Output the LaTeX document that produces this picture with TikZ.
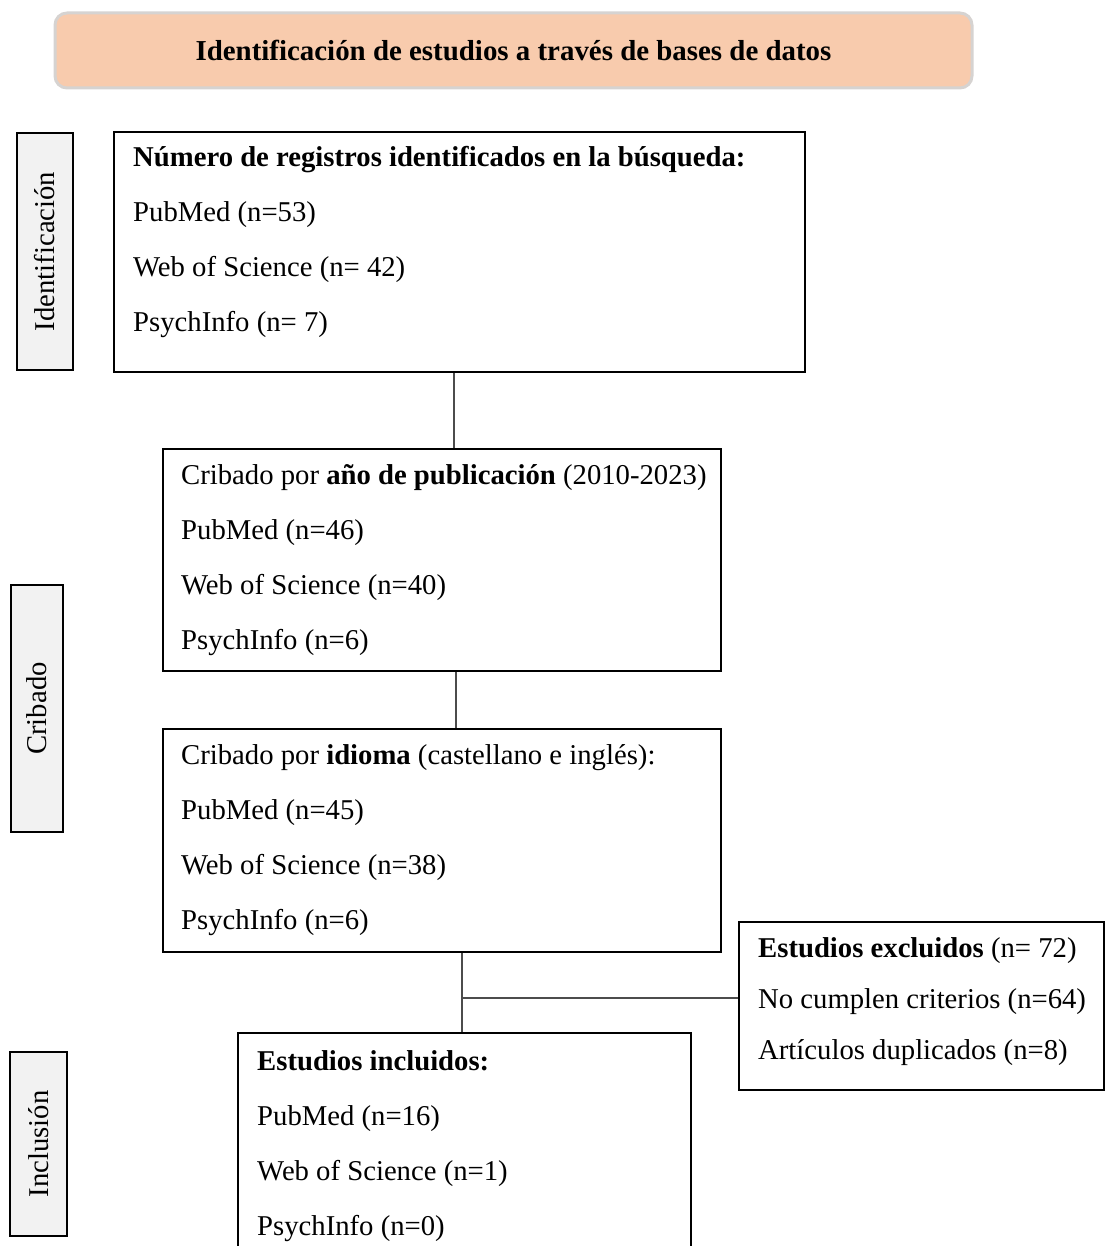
\documentclass[tikz,border=0pt]{standalone}
\usepackage{fontspec}
\setmainfont{Liberation Serif}
\usepackage{xcolor}
\usepackage{tikz}

\definecolor{peach}{HTML}{F8CBAD}
\definecolor{peachline}{HTML}{D6D3D1}
\definecolor{phasefill}{HTML}{F2F2F2}

\newcommand{\flowfont}{\fontsize{28.7}{55}\selectfont}
\newcommand{\exclfont}{\fontsize{28.7}{51}\selectfont}

\tikzset{
    header/.style={draw=peachline, line width=3pt, fill=peach, rounded corners=12pt,
        minimum width=917, minimum height=75, inner sep=0pt, font=\fontsize{28.9}{35}\selectfont\bfseries},
    phase/.style={draw=black, line width=2pt, fill=phasefill, rotate=90,
        inner sep=0pt, font=\flowfont},
    flowbox/.style={draw=black, line width=2.2pt, anchor=north west, inner sep=0pt},
    boxtext/.style={anchor=base west, align=flush left, text width=700, inner sep=0pt, font=\flowfont},
    link/.style={draw=black!70, line width=1.5pt}
}

\begin{document}
\begin{tikzpicture}[x=1pt, y=-1pt]
        \useasboundingbox (0,0) rectangle (1105,1246);
        \node[header] (head) at (513.5,50.5) {Identificación de estudios a través de bases de datos};
        % fases
        \node[phase, minimum width=237, minimum height=56] (pident) at (45,251.5) {Identificación};
        \node[phase, minimum width=247, minimum height=52] (pcrib) at (37,708.5) {Cribado};
        \node[phase, minimum width=184, minimum height=57] (pincl) at (38.5,1144) {Inclusión};
        % cajas
        \node[flowbox, minimum width=691, minimum height=240] (ident) at (113,131) {};
        \node[flowbox, minimum width=558, minimum height=222] (crib1) at (162,448) {};
        \node[flowbox, minimum width=558, minimum height=223] (crib2) at (162,728) {};
        \node[flowbox, minimum width=365, minimum height=168] (excl) at (738,921) {};
        \node[flowbox, minimum width=453, minimum height=240] (incl) at (237,1032) {};
        % textos
        \node[boxtext] (identtxt) at ([shift={(20,36)}]ident.north west)
            {\textbf{Número de registros identificados en la búsqueda:}\\
             PubMed (n=53)\\ Web of Science (n= 42)\\ PsychInfo (n= 7)};
        \node[boxtext] (crib1txt) at ([shift={(19,36)}]crib1.north west)
            {Cribado por \textbf{año de publicación} (2010-2023)\\
             PubMed (n=46)\\ Web of Science (n=40)\\ PsychInfo (n=6)};
        \node[boxtext] (crib2txt) at ([shift={(19,36)}]crib2.north west)
            {Cribado por \textbf{idioma} (castellano e inglés):\\
             PubMed (n=45)\\ Web of Science (n=38)\\ PsychInfo (n=6)};
        \node[boxtext, font=\exclfont] (excltxt) at ([shift={(20,36)}]excl.north west)
            {\textbf{Estudios excluidos} (n= 72)\\
             No cumplen criterios (n=64)\\ Artículos duplicados (n=8)};
        \node[boxtext] (incltxt) at ([shift={(20,38)}]incl.north west)
            {\textbf{Estudios incluidos:}\\
             PubMed (n=16)\\ Web of Science (n=1)\\ PsychInfo (n=0)};
        % conectores
        \coordinate (junc) at ([shift={(20,45)}]crib2.south);
        \draw[link] ([xshift=-5.5]ident.south) -- ([xshift=-5.5]ident.south |- crib1.north);  % ident - crib1
        \draw[link] ([xshift=14]crib1.south) -- ([xshift=14]crib1.south |- crib2.north);     % crib1 - crib2
        \draw[link] ([xshift=20]crib2.south) -- ([xshift=20]crib2.south |- incl.north);      % crib2 - incl
        \draw[link] (junc) -- (junc -| excl.west);                                           % excl
    \end{tikzpicture}
\end{document}
